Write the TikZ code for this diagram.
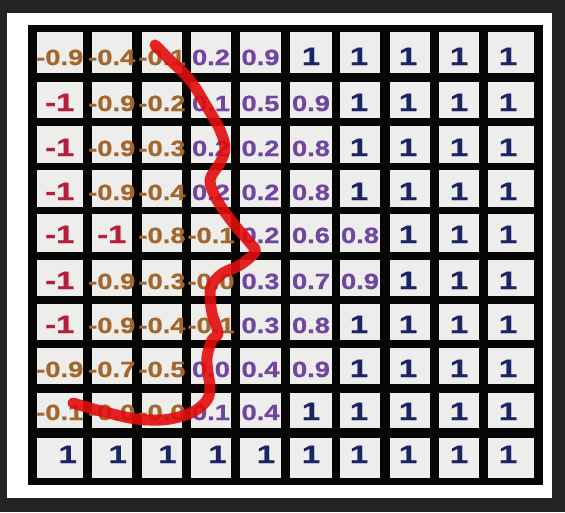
\documentclass[tikz,border=0pt]{standalone}
\usepackage{fontspec}
\setmainfont{Liberation Sans}
\newfontfamily\wfont[FakeStretch=1.32,FakeBold=0.8]{Liberation Sans}
\newfontfamily\dfont[FakeStretch=1.24,FakeBold=0.8]{Liberation Sans}
\definecolor{bgdark}{HTML}{232323}
\definecolor{gridblack}{HTML}{060606}
\definecolor{cellfill}{HTML}{EDEDEB}
\definecolor{tbrown}{HTML}{A3662D}
\definecolor{tred}{HTML}{B81E3C}
\definecolor{tpurple}{HTML}{7046A0}
\definecolor{tnavy}{HTML}{1C2466}
\definecolor{curvered}{HTML}{E20C0C}
\begin{document}
\begin{tikzpicture}[x=1pt,y=-1pt,
  cell/.style={fill=cellfill, draw=none, inner sep=0pt, outer sep=0pt},
  val/.style={inner sep=0pt, anchor=base, font=\fontsize{22}{22}\dfont\bfseries},
  tB/.style={val, text=tbrown},
  tR/.style={val, text=tred, font=\fontsize{25}{25}\wfont\bfseries},
  tP/.style={val, text=tpurple},
  tN/.style={val, text=tnavy, xshift=\ox pt, font=\fontsize{25}{25}\wfont\bfseries},
  stroke/.style={draw=curvered, draw opacity=0.9, line width=11pt, line cap=round, line join=round}]
\useasboundingbox (0,0) rectangle (565,512);
\fill[bgdark] (0,0) rectangle (565,512);
\fill[white] (7,13) rectangle (552,498);
\fill[gridblack] (28,25) rectangle (543,485);
\def\XL{{36.5,91.5,142,191,240,290,340,390,439,488}}
\def\XR{{83,132,182,231,281,332,380,430,479,534}}
\def\YT{{32,82,126,170,214,260,304,348,393,438}}
\def\YB{{73,118,163,207,252,296,340,384,428,478}}
\def\BL{{65,111,156,200,243,289,333,377,420,463}}
\def\OO{{8,6,5.5,6.5,5.5,0,-1,-2,0,-3}}
\foreach \r in {1,...,10}{
  \foreach \c in {1,...,10}{
    \pgfmathsetmacro\xl{\XL[\c-1]}
    \pgfmathsetmacro\xr{\XR[\c-1]}
    \pgfmathsetmacro\yt{\YT[\r-1]}
    \pgfmathsetmacro\yb{\YB[\r-1]}
    \pgfmathsetmacro\cw{\xr-\xl}
    \pgfmathsetmacro\ch{\yb-\yt}
    \node[cell, minimum width=\cw pt, minimum height=\ch pt] (cell-\r-\c) at ({(\xl+\xr)/2},{(\yt+\yb)/2}) {};
  }
}
\foreach \rowdata [count=\r] in {
  {B/-0.9,B/-0.4,B/-0.1,P/0.2,P/0.9,N/1,N/1,N/1,N/1,N/1},
  {R/-1,B/-0.9,B/-0.2,P/0.1,P/0.5,P/0.9,N/1,N/1,N/1,N/1},
  {R/-1,B/-0.9,B/-0.3,P/0.2,P/0.2,P/0.8,N/1,N/1,N/1,N/1},
  {R/-1,B/-0.9,B/-0.4,P/0.2,P/0.2,P/0.8,N/1,N/1,N/1,N/1},
  {R/-1,R/-1,B/-0.8,B/-0.1,P/0.2,P/0.6,P/0.8,N/1,N/1,N/1},
  {R/-1,B/-0.9,B/-0.3,B/-0.0,P/0.3,P/0.7,P/0.9,N/1,N/1,N/1},
  {R/-1,B/-0.9,B/-0.4,B/-0.1,P/0.3,P/0.8,N/1,N/1,N/1,N/1},
  {B/-0.9,B/-0.7,B/-0.5,P/0.0,P/0.4,P/0.9,N/1,N/1,N/1,N/1},
  {B/-0.1,B/-0.0,B/-0.0,P/0.1,P/0.4,N/1,N/1,N/1,N/1,N/1},
  {N/1,N/1,N/1,N/1,N/1,N/1,N/1,N/1,N/1,N/1}}{
  \foreach \s/\v [count=\c] in \rowdata {
    \pgfmathsetmacro\xa{\XL[\c-1]}
    \pgfmathsetmacro\xb{\XR[\c-1]}
    \pgfmathsetmacro\xc{(\xa+\xb)/2}
    \pgfmathsetmacro\bl{\BL[\r-1]}
    \pgfmathsetmacro\ox{\OO[\c-1]}
    \node[t\s] (t-\r-\c) at (\xc,\bl) {\v};
  }
}
\draw[stroke] plot[smooth, tension=0.55] coordinates {
  (155,45) (170,60) (190,80) (207,107) (220,130) (225,148) (220,163) (210,180)
  (217,200) (233,223) (250,243) (255,252) (240,265) (223,273) (213,283) (210,293)
  (212,313) (218,333) (212,340) (207,357) (208,373) (210,387) (207,400)
  (193,412) (170,419) (150,420) (130,418) (97,410) (73,403)};
\end{tikzpicture}
\end{document}
